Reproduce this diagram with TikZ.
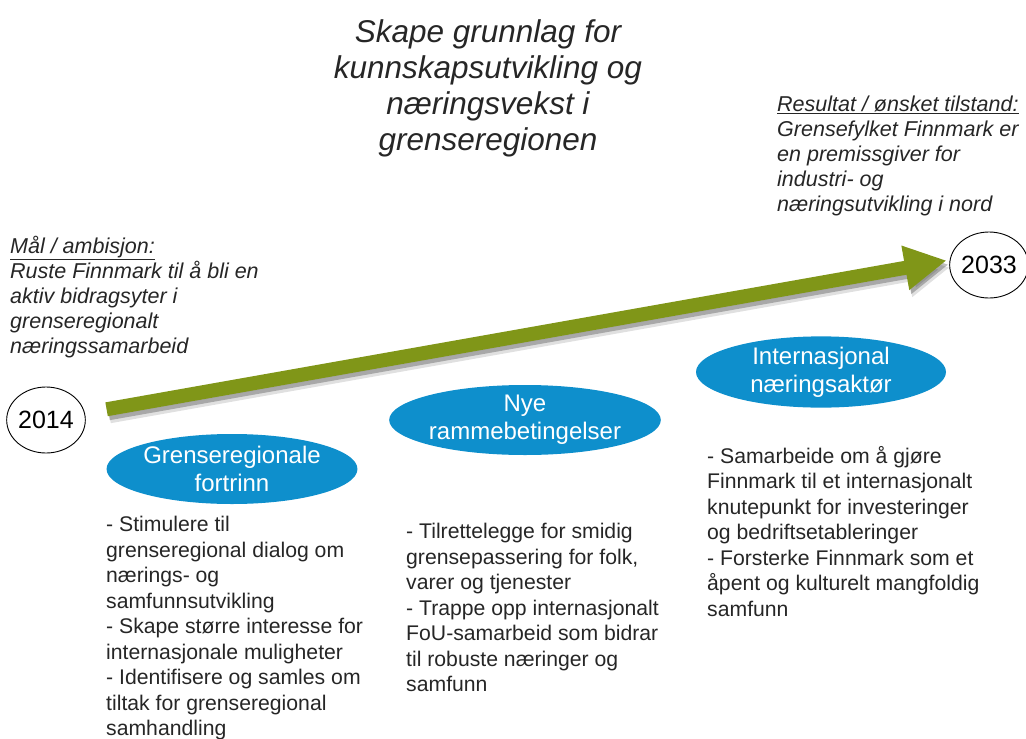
\documentclass[tikz,border=0pt]{standalone}
\usepackage{fontspec}
\setmainfont{Liberation Sans}
\usepackage{tikz}
\usetikzlibrary{shapes,arrows.meta}
\definecolor{bluebubble}{RGB}{14,143,204}
\definecolor{olivearrow}{RGB}{128,150,24}
\definecolor{darktext}{RGB}{38,38,38}
\tikzstyle{bubble} = [ellipse, fill=bluebubble, text=white, inner sep=0pt, minimum width=250pt, minimum height=70pt, align=center, font=\fontsize{24}{28}\selectfont]
\tikzstyle{yearbox} = [ellipse, draw=black, line width=0.9pt, inner sep=0pt, minimum width=72pt, minimum height=66pt, font=\fontsize{25}{30}\selectfont]
\tikzstyle{listtext} = [inner sep=0pt, anchor=north west, align=left, text=darktext, font=\fontsize{21.2}{25.5}\selectfont]
\tikzstyle{goaltext} = [inner sep=0pt, anchor=north west, align=left, text=darktext, font=\itshape\fontsize{21.5}{25}\selectfont]
\tikzstyle{timeline} = [line width=14pt, shorten <=22pt, shorten >=43pt, -{Triangle[length=42pt,width=42pt]}]

\begin{document}
\begin{tikzpicture}[x=1pt,y=-1pt]
\useasboundingbox (0,0) rectangle (1026,739);

% overskrift
\node [inner sep=0pt, anchor=north, align=center, text=darktext, font=\itshape\fontsize{31.5}{36}\selectfont] (title) at (488,19)
    {Skape grunnlag for\\kunnskapsutvikling og\\næringsvekst i\\grenseregionen};

% start og slutt
\node [yearbox] (y2014) at (46,420) {2014};
\node [yearbox] (y2033) at (989,265) {2033};
\coordinate (aim) at ([yshift=12pt]y2033.center);

\node [goaltext] (goal) at (10,236)
    {\underline{Mål / ambisjon:}\\Ruste Finnmark til å bli en\\aktiv bidragsyter i\\grenseregionalt\\næringssamarbeid};
\node [goaltext] (result) at (777,96)
    {\underline{Resultat / ønsket tilstand:}\\Grensefylket Finnmark er\\en premissgiver for\\industri- og\\næringsutvikling i nord};

% pila med skygge
\draw [timeline, draw=black, fill=black, opacity=.12, transform canvas={xshift=3pt,yshift=-7pt}] (y2014) -- (aim);
\draw [timeline, draw=black, fill=black, opacity=.25, transform canvas={xshift=2pt,yshift=-4pt}] (y2014) -- (aim);
\draw [timeline, draw=olivearrow, fill=olivearrow] (y2014) -- (aim);

% tre innsatsomraader
\node [bubble] (fortrinn) at (232,469) {Grenseregionale\\fortrinn};
\node [bubble] (ramme) at (525,420) {Nye\\rammebetingelser};
\node [bubble] (aktor) at (821,372) {Internasjonal\\næringsaktør};

\node [listtext] (list1) at (106,516)
    {- Stimulere til\\grenseregional dialog om\\nærings- og\\samfunnsutvikling\\- Skape større interesse for\\internasjonale muligheter\\- Identifisere og samles om\\tiltak for grenseregional\\samhandling};
\node [listtext] (list2) at (406,523)
    {- Tilrettelegge for smidig\\grensepassering for folk,\\varer og tjenester\\- Trappe opp internasjonalt\\FoU-samarbeid som bidrar\\til robuste næringer og\\samfunn};
\node [listtext] (list3) at (707,446)
    {- Samarbeide om å gjøre\\Finnmark til et internasjonalt\\knutepunkt for investeringer\\og bedriftsetableringer\\- Forsterke Finnmark som et\\åpent og kulturelt mangfoldig\\samfunn};
\end{tikzpicture}
\end{document}
